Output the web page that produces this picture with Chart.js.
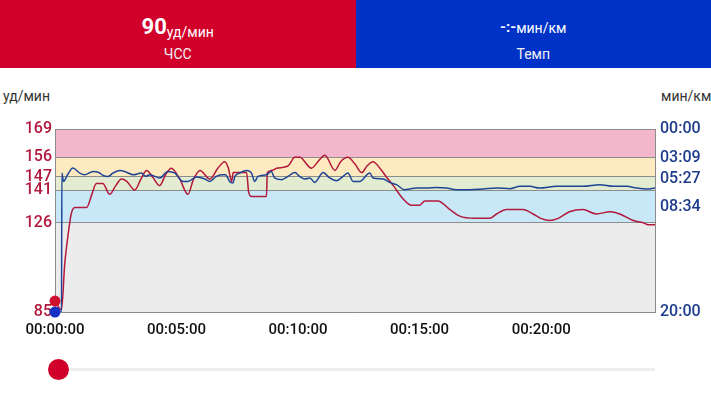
<!DOCTYPE html>
<html>
<head>
<meta charset="utf-8">
<script src="https://cdn.jsdelivr.net/npm/chart.js@4/dist/chart.umd.min.js"></script>
<style>
  html,body{margin:0;padding:0;background:#fff;width:711px;height:400px;overflow:hidden;font-family:Roboto,"Noto Sans",sans-serif;}
  .hdr{position:absolute;top:0;height:68px;width:355.5px;color:#fff;text-align:center;}
  .hdr.l{left:0;background:#d0002b;}
  .hdr.r{left:355.5px;background:#0032c8;}
  .big{position:absolute;top:14px;left:0;right:0;font-size:22px;font-weight:700;line-height:26px;white-space:nowrap;}
  .big span{font-size:14px;font-weight:400;position:relative;top:3px;}
  .sub{position:absolute;top:46px;left:0;right:0;font-size:14px;line-height:16px;color:#f2f2f2;}
  .ttl{position:absolute;top:88px;font-size:14px;color:#333;white-space:nowrap;}
  #wrap{position:absolute;left:0;top:80px;width:711px;height:270px;}
  .track{position:absolute;left:58px;top:368px;width:597px;height:3px;background:#eeeeee;}
  .knob{position:absolute;left:48px;top:359px;width:21px;height:21px;border-radius:50%;background:#d0002b;}
</style>
</head>
<body>
<div class="hdr l"><div class="big">90<span>уд/мин</span></div><div class="sub">ЧСС</div></div>
<div class="hdr r"><div class="big" style="font-size:15px;">-:-<span style="top:1px;">мин/км</span></div><div class="sub">Темп</div></div>
<div class="ttl" style="left:3px;">уд/мин</div>
<div class="ttl" style="left:661px;">мин/км</div>
<div id="wrap"><canvas id="c" width="711" height="270"></canvas></div>
<div class="track"></div>
<div class="knob"></div>
<script>
// Heart rate (bpm) over time (seconds)
const hrTimes = [0,16,24,32,40,49,56,78,91,102,118,135,150,164,177,197,212,226,241,258,273,287,308,328,342,358,382,402,419,428,436,440,456,473,478,485,522,524,535,547,575,592,604,633,649,666,691,705,723,740,757,770,785,802,818,835,859,880,900,913,945,975,999,1036,1073,1090,1115,1155,1180,1199,1221,1242,1270,1303,1336,1370,1394,1427,1452,1464,1481];
const hrValues = [90,86,107,120,130,133,133,133,139,144,144,139,143,146,145,141,146,150,147,143,148,151,146,139,146,150,146,151,154,151,145,149,149,149,140,138,138,149,150,151,152,156,156,151,154,157,150,154,156,153,149,152,154,151,147,143,137,134,134,136,136,132,129,128,128,130,132,132,130,128,127,128,131,132,130,131,130,127,126,125,125];
// Pace (seconds per km) over time (seconds)
const paceTimes = [0,16,17,21,31,44,61,73,94,108,119,131,143,160,175,193,213,224,234,259,278,296,316,328,349,370,382,398,411,421,431,439,444,456,473,485,493,501,522,534,542,559,575,592,604,617,629,641,662,678,695,711,723,736,752,777,785,810,826,843,863,876,892,917,942,966,991,1024,1057,1090,1123,1148,1172,1196,1238,1271,1304,1345,1378,1411,1435,1460,1481];
const paceValues = [1200,1200,288,344,300,256,289,300,278,285,305,311,289,272,282,300,289,310,300,321,278,289,344,344,315,328,344,311,300,300,344,354,311,289,272,289,344,311,300,278,321,332,311,285,311,328,321,350,285,321,339,311,289,344,344,289,321,328,350,365,398,393,387,387,383,387,398,398,393,387,391,376,376,387,376,376,376,365,376,376,387,393,387];
// Axis ticks
const hrTicks = [85,126,141,147,156,169];
const paceTicks = [0,189,327,514,1200];
const timeTicks = [0,300,600,900,1200];
const timeMax = 1481;
// Heart-rate zones
const zoneBounds = [85,126,141,147,156,169];
const zoneColors = ['#ececec','#c9e8f7','#e3ebd0','#fdeac1','#f3b7cb'];
// Cursor
const cursorTime = 0, cursorHr = 90, cursorPace = 1200;

const pad2 = n => String(n).padStart(2,'0');
const fmtHMS = s => pad2(Math.floor(s/3600)) + ':' + pad2(Math.floor(s%3600/60)) + ':' + pad2(Math.round(s%60));
const fmtMS = s => pad2(Math.floor(s/60)) + ':' + pad2(Math.round(s%60));

const zones = {
  id:'zones',
  beforeDraw(chart){
    const {ctx, chartArea:a, scales:{y}} = chart;
    ctx.save();
    for(let i=0;i<zoneColors.length;i++){
      const top = y.getPixelForValue(zoneBounds[i+1]);
      const bot = y.getPixelForValue(zoneBounds[i]);
      ctx.fillStyle = zoneColors[i];
      ctx.fillRect(a.left, top, a.right-a.left, bot-top);
    }
    ctx.restore();
  }
};

new Chart(document.getElementById('c'), {
  type:'line',
  data:{datasets:[
    {label:'cursorHr', type:'scatter', data:[{x:cursorTime,y:cursorHr}], yAxisID:'y', pointRadius:5.5, pointBackgroundColor:'#d0102f', pointBorderWidth:0, clip:false, order:0},
    {label:'cursorPace', type:'scatter', data:[{x:cursorTime,y:cursorPace}], yAxisID:'y2', pointRadius:5.5, pointBackgroundColor:'#1432c4', pointBorderWidth:0, clip:false, order:0},
    {label:'ЧСС', data:hrTimes.map((t,i)=>({x:t,y:hrValues[i]})), yAxisID:'y', borderColor:'#b2183c', borderWidth:1.5, pointRadius:0, cubicInterpolationMode:'monotone', order:2},
    {label:'Темп', data:paceTimes.map((t,i)=>({x:t,y:paceValues[i]})), yAxisID:'y2', borderColor:'#1e4596', borderWidth:1.5, pointRadius:0, cubicInterpolationMode:'monotone', order:1}
  ]},
  options:{
    responsive:false, animation:false, events:[],
    layout:{padding:{top:49,left:0,right:0,bottom:0}},
    plugins:{legend:{display:false}, tooltip:{enabled:false}},
    scales:{
      x:{type:'linear', min:0, max:timeMax,
        afterBuildTicks:s=>{s.ticks = timeTicks.map(v=>({value:v}));},
        afterFit:s=>{s.height=38;},
        grid:{display:false, drawTicks:false},
        border:{display:true, color:'#8c8c8c'},
        ticks:{padding:9, color:'#111', font:{family:'Roboto', size:15, weight:'500'}, callback:v=>fmtHMS(v), maxRotation:0, autoSkip:false}
      },
      y:{type:'linear', position:'left', min:85, max:169,
        afterBuildTicks:s=>{s.ticks = hrTicks.map(v=>({value:v}));},
        afterFit:s=>{s.width=55;},
        grid:{color:'#8c8c8c', drawTicks:false, lineWidth:1},
        border:{display:true, color:'#8c8c8c'},
        ticks:{padding:3, color:'#b2183c', font:{family:'Roboto', size:16, weight:'500'}, autoSkip:false}
      },
      y2:{type:'linear', position:'right', min:0, max:1200, reverse:true,
        afterBuildTicks:s=>{s.ticks = paceTicks.map(v=>({value:v}));},
        afterFit:s=>{s.width=56;},
        grid:{display:false, drawTicks:false},
        border:{display:true, color:'#8c8c8c'},
        ticks:{padding:5, color:'#1e3c8c', font:{family:'Roboto', size:16, weight:'500'}, callback:v=>fmtMS(v), autoSkip:false}
      }
    }
  },
  plugins:[zones]
});
</script>
</body>
</html>
